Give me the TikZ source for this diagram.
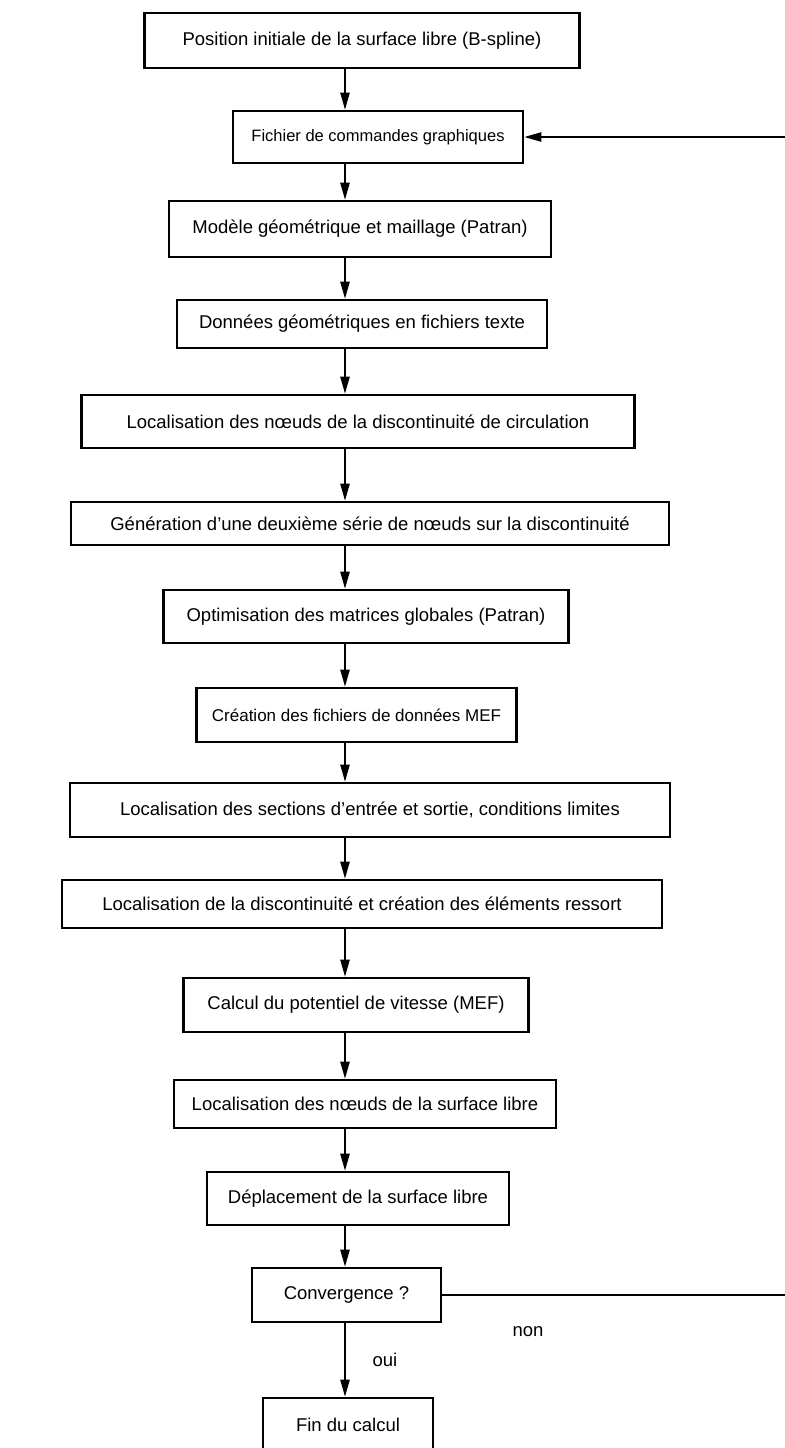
\documentclass[tikz,border=0pt]{standalone}
\usepackage{fontspec}
\setmainfont{Liberation Sans}
\usetikzlibrary{arrows.meta}
\begin{document}
\begin{tikzpicture}[x=0.5pt,y=-0.5pt,
  etape/.style={draw, line width=1.3pt, inner sep=0pt, font=\fontsize{9.25}{11}\selectfont},
  fl/.style={line width=0.85pt, -{Triangle[length=8.5pt,width=4.6pt]}},
  lbl/.style={font=\fontsize{9.25}{11}\selectfont}]
  \useasboundingbox (0,0) rectangle (784,1448);
  \coordinate (col) at (345,0);
  \coordinate (bord) at (800,0);

  \node[etape, minimum width=217.5pt, minimum height=27.5pt] (b1) at (362,40.5) {Position initiale de la surface libre (B-spline)};
  \node[etape, minimum width=145pt, minimum height=26pt, font=\fontsize{8.25}{10}\selectfont] (b2) at (378,137) {Fichier de commandes graphiques};
  \node[etape, minimum width=191pt, minimum height=28pt] (b3) at (360,229) {Modèle géométrique et maillage (Patran)};
  \node[etape, minimum width=185pt, minimum height=24pt] (b4) at (362,324) {Données géométriques en fichiers texte};
  \node[etape, minimum width=276.5pt, minimum height=26.5pt] (b5) at (358,421.5) {Localisation des nœuds de la discontinuité de circulation};
  \node[etape, minimum width=299pt, minimum height=21.5pt] (b6) at (370,523.5) {Génération d’une deuxième série de nœuds sur la discontinuité};
  \node[etape, minimum width=202.5pt, minimum height=26.5pt] (b7) at (366,616.5) {Optimisation des matrices globales (Patran)};
  \node[etape, minimum width=160pt, minimum height=27pt, font=\fontsize{8.5}{10}\selectfont] (b8) at (356.5,715) {Création des fichiers de données MEF};
  \node[etape, minimum width=300pt, minimum height=27pt] (b9) at (370,810) {Localisation des sections d’entrée et sortie, conditions limites};
  \node[etape, minimum width=300pt, minimum height=24pt] (b10) at (362,904) {Localisation de la discontinuité et création des éléments ressort};
  \node[etape, minimum width=172.5pt, minimum height=27pt] (b11) at (356,1005) {Calcul du potentiel de vitesse (MEF)};
  \node[etape, minimum width=191pt, minimum height=24pt] (b12) at (365,1104) {Localisation des nœuds de la surface libre};
  \node[etape, minimum width=151pt, minimum height=26.5pt] (b13) at (358,1198.5) {Déplacement de la surface libre};
  \node[etape, minimum width=94.5pt, minimum height=27pt] (b14) at (346.5,1295) {Convergence ?};
  \node[etape, minimum width=85pt, minimum height=27pt] (b15) at (348,1425) {Fin du calcul};

  \node[lbl] (non) at (528,1332) {non};
  \node[lbl] (oui) at (385,1360) {oui};

  \draw[fl] (b1.south -| col) -- (b2.north -| col);
  \draw[fl] (b2.south -| col) -- (b3.north -| col);
  \draw[fl] (b3.south -| col) -- (b4.north -| col);
  \draw[fl] (b4.south -| col) -- (b5.north -| col);
  \draw[fl] (b5.south -| col) -- (b6.north -| col);
  \draw[fl] (b6.south -| col) -- (b7.north -| col);
  \draw[fl] (b7.south -| col) -- (b8.north -| col);
  \draw[fl] (b8.south -| col) -- (b9.north -| col);
  \draw[fl] (b9.south -| col) -- (b10.north -| col);
  \draw[fl] (b10.south -| col) -- (b11.north -| col);
  \draw[fl] (b11.south -| col) -- (b12.north -| col);
  \draw[fl] (b12.south -| col) -- (b13.north -| col);
  \draw[fl] (b13.south -| col) -- (b14.north -| col);
  \draw[fl] (b14.south -| col) -- (b15.north -| col);

  % retour si pas de convergence
  \draw[fl] (b14.east) -- (b14.east -| bord) |- (b2.east);
\end{tikzpicture}
\end{document}
